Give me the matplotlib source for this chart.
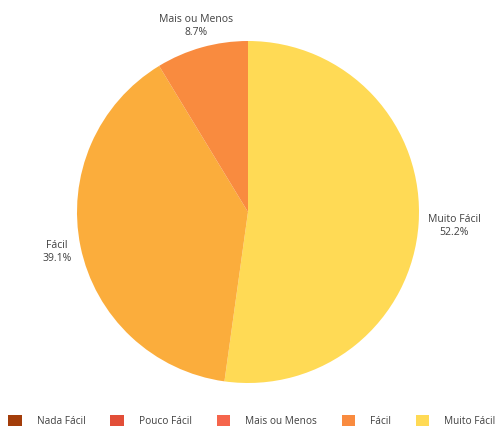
import numpy as np
import matplotlib
matplotlib.use('Agg')
import matplotlib.pyplot as plt
from matplotlib.patches import Patch

plt.rcParams['font.family'] = ['Open Sans', 'DejaVu Sans']

categories = ['Nada Fácil', 'Pouco Fácil', 'Mais ou Menos', 'Fácil', 'Muito Fácil']
legend_colors = ['#A33D0A', '#E24E38', '#F5654C', '#F98B3F', '#FFDA55']

# slices actually drawn (clockwise from the top)
pie_labels = ['Muito Fácil', 'Fácil', 'Mais ou Menos']
pie_values = [52.2, 39.1, 8.7]
pie_colors = ['#FFDA55', '#FBAD3C', '#F98B3F']
label_dist = [1.21, 1.14, 1.13]

fig = plt.figure(figsize=(4.99, 4.30), dpi=100)
ax = fig.add_axes([77 / 499, 47 / 430, 342 / 499, 342 / 430])

wedges, _ = ax.pie(pie_values, colors=pie_colors, startangle=90,
                   counterclock=False, radius=1,
                   wedgeprops=dict(linewidth=0))
ax.set_aspect('equal')
ax.set_xlim(-1, 1)
ax.set_ylim(-1, 1)
ax.axis('off')

for w, lab, val, d in zip(wedges, pie_labels, pie_values, label_dist):
    ang = np.deg2rad((w.theta1 + w.theta2) / 2)
    ax.text(d * np.cos(ang), d * np.sin(ang), f'{lab}\n{val:.1f}%',
            ha='center', va='center', fontsize=7.5, color='#404040',
            linespacing=1.25, clip_on=False)

handles = [Patch(facecolor=c, edgecolor='none') for c in legend_colors]
fig.legend(handles, categories, loc='center', bbox_to_anchor=(0.505, 0.02),
           ncol=5, frameon=False, fontsize=7.3, handlelength=1.3,
           handleheight=1.3, columnspacing=2.45, handletextpad=1.5,
           labelcolor='#404040')

fig.savefig('out.png', dpi=100)
